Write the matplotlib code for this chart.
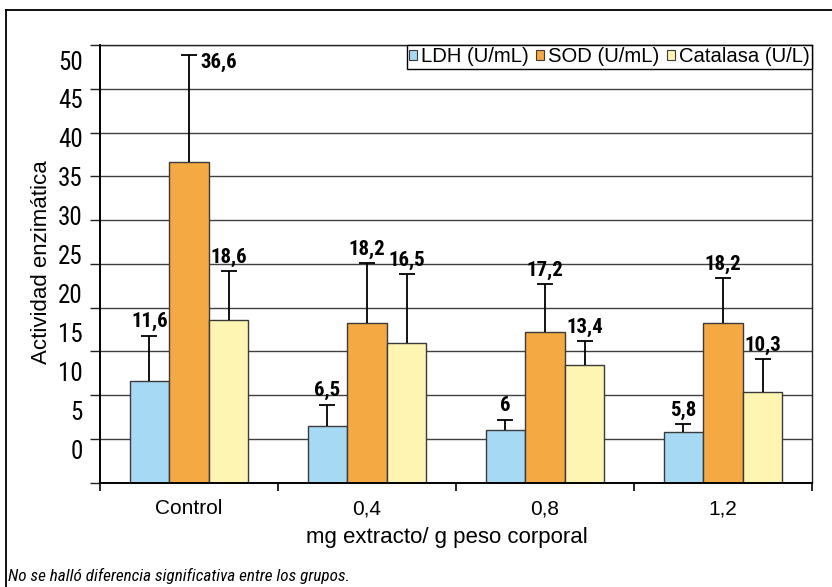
import matplotlib
matplotlib.use('Agg')
import matplotlib.pyplot as plt
from matplotlib.lines import Line2D
from matplotlib.patches import Patch
from matplotlib import font_manager as fm
import numpy as np

# ---------------- data ----------------
groups = ['Control', '0,4', '0,8', '1,2']
series = ['LDH (U/mL)', 'SOD (U/mL)', 'Catalasa (U/L)']
ldh = [11.6, 6.5, 6.0, 5.8]
sod = [36.6, 18.2, 17.2, 18.2]
cat = [18.6, 16.0, 13.4, 10.3]
ldh_err = [5.2, 2.4, 1.2, 0.85]
sod_err = [12.3, 6.9, 5.5, 5.15]
cat_err = [5.6, 7.8, 2.8, 3.8]
ldh_lab = ['11,6', '6,5', '6', '5,8']
sod_lab = ['36,6', '18,2', '17,2', '18,2']
cat_lab = ['18,6', '16,5', '13,4', '10,3']
ytick_values = [0, 5, 10, 15, 20, 25, 30, 35, 40, 45, 50]
ytick_labels = ['0', '5', '10', '15', '20', '25', '30', '35', '40', '45', '50']
colors = ['#A6DAF4', '#F5A942', '#FFF5B2']


def has(name):
    return any(f.name == name for f in fm.fontManager.ttflist)


REG = 'Liberation Sans' if has('Liberation Sans') else 'DejaVu Sans'
NARROW_CANDIDATES = ['Roboto Condensed', 'Archivo Narrow', 'Pragati Narrow', 'PT Sans Narrow',
                     'Liberation Sans Narrow']


def pick(style='normal', bold=False):
    for name in NARROW_CANDIDATES:
        for f in fm.fontManager.ttflist:
            if f.name != name or f.style != style:
                continue
            w = f.weight if isinstance(f.weight, int) else (700 if 'bold' in str(f.weight) else 400)
            if (bold and w == 700) or (not bold and w == 400):
                return fm.FontProperties(fname=f.fname)
    return fm.FontProperties(family=REG, style=style, weight='bold' if bold else 'normal')


plt.rcParams['font.family'] = [REG, 'DejaVu Sans']

W, H = 832, 587
fig = plt.figure(figsize=(W / 100, H / 100), dpi=100)
ax = fig.add_axes([100 / W, 1 - 482.5 / H, 712 / W, 437.5 / H])

fp_val = pick(bold=True)
fp_val.set_size(15)
fp_tick = pick()
fp_tick.set_size(18)
fp_note = pick(style='italic')
fp_note.set_size(12.3)

x = np.arange(len(groups))
bw = 0.222
vals = [ldh, sod, cat]
errs = [ldh_err, sod_err, cat_err]
labs = [ldh_lab, sod_lab, cat_lab]
for i in range(3):
    xs = x + (i - 1) * bw
    ax.bar(xs, vals[i], bw, color=colors[i], edgecolor='#3a3a3a', linewidth=1.0, zorder=2)
    eb = ax.errorbar(xs, vals[i], yerr=[np.zeros(len(x)), errs[i]], fmt='none',
                     ecolor='black', elinewidth=1.3, capsize=5.5, capthick=1.3, zorder=3)
    # keep only the upper caps
    for cl in eb[1]:
        if np.allclose(cl.get_ydata(), vals[i]):
            cl.set_visible(False)
    for j in range(len(x)):
        top = vals[i][j] + errs[i][j]
        if i == 1 and j == 0:
            ax.annotate(labs[i][j], (xs[j], top), xytext=(8.5, -9.5), textcoords='offset points',
                        ha='left', va='baseline', fontproperties=fp_val)
        else:
            ax.annotate(labs[i][j], (xs[j], top), xytext=(0, 6), textcoords='offset points',
                        ha='center', va='baseline', fontproperties=fp_val)

ax.set_xlim(-0.5, len(groups) - 0.5)
ax.set_ylim(0, 50)
ax.set_yticks(ytick_values)
ax.set_yticklabels([])
ax.tick_params(axis='y', length=7, width=1, color='#222222', labelleft=False)
ax.yaxis.grid(True, color='#404040', linewidth=1.0)
ax.set_axisbelow(True)

# misaligned y tick labels, as in the original figure
for v, t in zip(ytick_values, ytick_labels):
    ax.text(-0.024, 3.45 + v * 0.891, t, transform=ax.get_yaxis_transform(),
            ha='right', va='center', fontproperties=fp_tick)

ax.set_xticks(np.arange(len(groups) + 1) - 0.5)
ax.set_xticklabels([])
ax.tick_params(axis='x', which='major', length=6, width=1.2, color='black')
ax.set_xticks(x, groups, minor=True)
ax.tick_params(axis='x', which='minor', length=0, pad=12, labelsize=15)

for s in ['left', 'bottom']:
    ax.spines[s].set_linewidth(1.4)
    ax.spines[s].set_color('black')
for s in ['top', 'right']:
    ax.spines[s].set_linewidth(1.0)
    ax.spines[s].set_color('#222222')

handles = [Patch(facecolor=c, edgecolor='#3a3a3a', linewidth=0.8) for c in colors]
leg = ax.legend(handles, series, loc='upper right', bbox_to_anchor=(1, 1), borderaxespad=0,
                ncol=3, fontsize=14.6, handlelength=0.4, handleheight=0.35, handletextpad=0.2,
                columnspacing=0.35, borderpad=0.12, fancybox=False, framealpha=1, edgecolor='black')
leg.get_frame().set_linewidth(1.0)

fig.text(42 / W, 1 - 262.5 / H, 'Actividad enzimática', rotation=90, ha='center', va='center', fontsize=16)
fig.text(447 / W, 1 - 537 / H, 'mg extracto/ g peso corporal', ha='center', va='center', fontsize=16)
fig.text(8 / W, 1 - 576 / H, 'No se halló diferencia significativa entre los grupos.',
         ha='left', va='center', fontproperties=fp_note)

fig.add_artist(Line2D([6 / W, 6 / W], [0, 1 - 10 / H], transform=fig.transFigure, color='black', lw=1.3))
fig.add_artist(Line2D([6 / W, 1], [1 - 10 / H, 1 - 10 / H], transform=fig.transFigure, color='black', lw=1.3))

fig.savefig('out.png', dpi=100)
